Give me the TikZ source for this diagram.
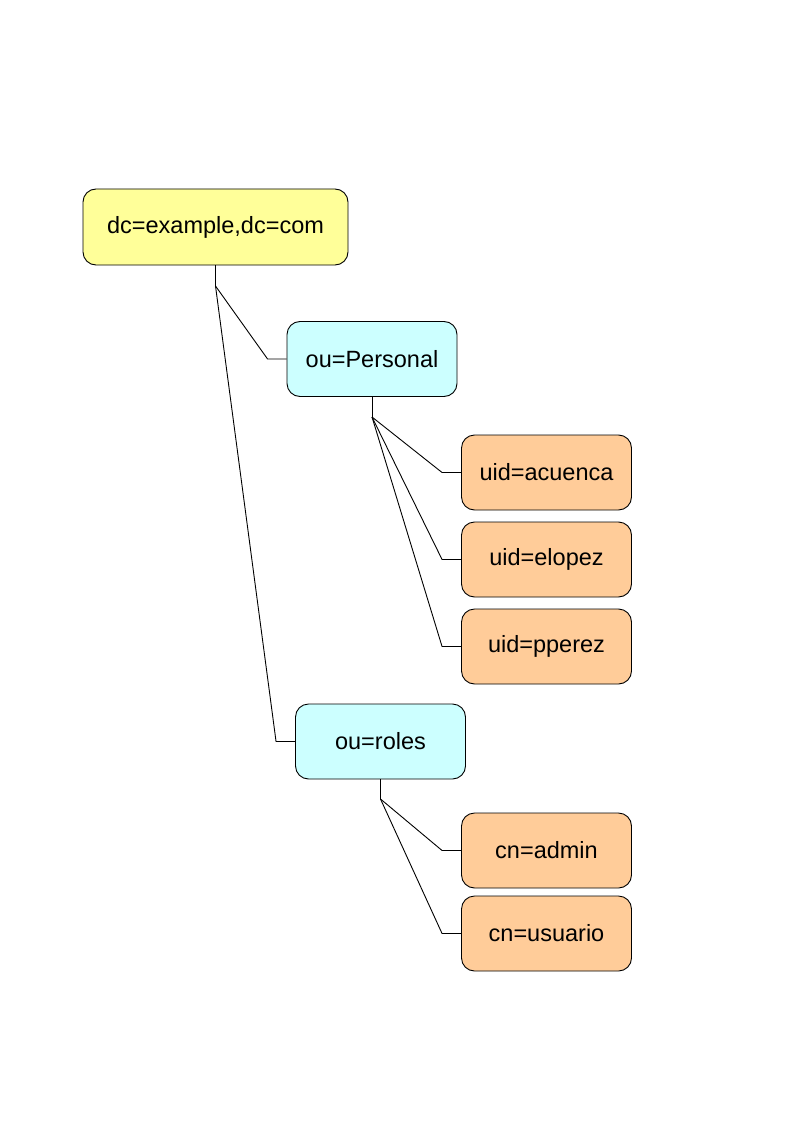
\documentclass[tikz,border=0pt]{standalone}
\usepackage{fontspec}
\setmainfont{Liberation Sans}
\definecolor{dnyellow}{HTML}{FFFF99}
\definecolor{oucyan}{HTML}{CCFFFF}
\definecolor{leaforange}{HTML}{FFCC99}
\begin{document}
\begin{tikzpicture}[x=1pt,y=-1pt,line width=0.9pt,
  every node/.style={draw,rounded corners=13pt,minimum width=170pt,minimum height=75pt,
    inner sep=0pt,font=\fontsize{23.5}{27}\selectfont},
  dn/.style={fill=dnyellow,minimum width=265pt,minimum height=76pt},
  ou/.style={fill=oucyan},
  leaf/.style={fill=leaforange}
]
    \useasboundingbox (0,0) rectangle (794,1123);
    \node[dn] (root) at (215.5,227) {dc=example,dc=com};
    \node[ou] (personal) at (372,359) {ou=Personal};
    \node[ou] (roles) at (380.5,741.5) {ou=roles};
    \node[leaf] (acuenca) at (546.5,472.5) {uid=acuenca};
    \node[leaf] (elopez) at (546.5,559.5) {uid=elopez};
    \node[leaf] (pperez) at (546.5,646.5) {uid=pperez};
    \node[leaf] (admin) at (546.5,850.5) {cn=admin};
    \node[leaf] (usuario) at (546.5,933.5) {cn=usuario};
    % junctions
    \coordinate (rj) at (215.5,286);
    \coordinate (pj) at (372,417);
    \coordinate (oj) at (380.5,799);
    \draw (root.south) -- (rj);
    \draw (rj) -- ([xshift=-19pt]personal.west) -- (personal.west);
    \draw (rj) -- ([xshift=-19pt]roles.west) -- (roles.west);
    \draw (personal.south) -- (pj);
    \draw (pj) -- ([xshift=-19pt]acuenca.west) -- (acuenca.west);
    \draw (pj) -- ([xshift=-19pt]elopez.west) -- (elopez.west);
    \draw (pj) -- ([xshift=-19pt]pperez.west) -- (pperez.west);
    \draw (roles.south) -- (oj);
    \draw (oj) -- ([xshift=-19pt]admin.west) -- (admin.west);
    \draw (oj) -- ([xshift=-19pt]usuario.west) -- (usuario.west);
\end{tikzpicture}
\end{document}
